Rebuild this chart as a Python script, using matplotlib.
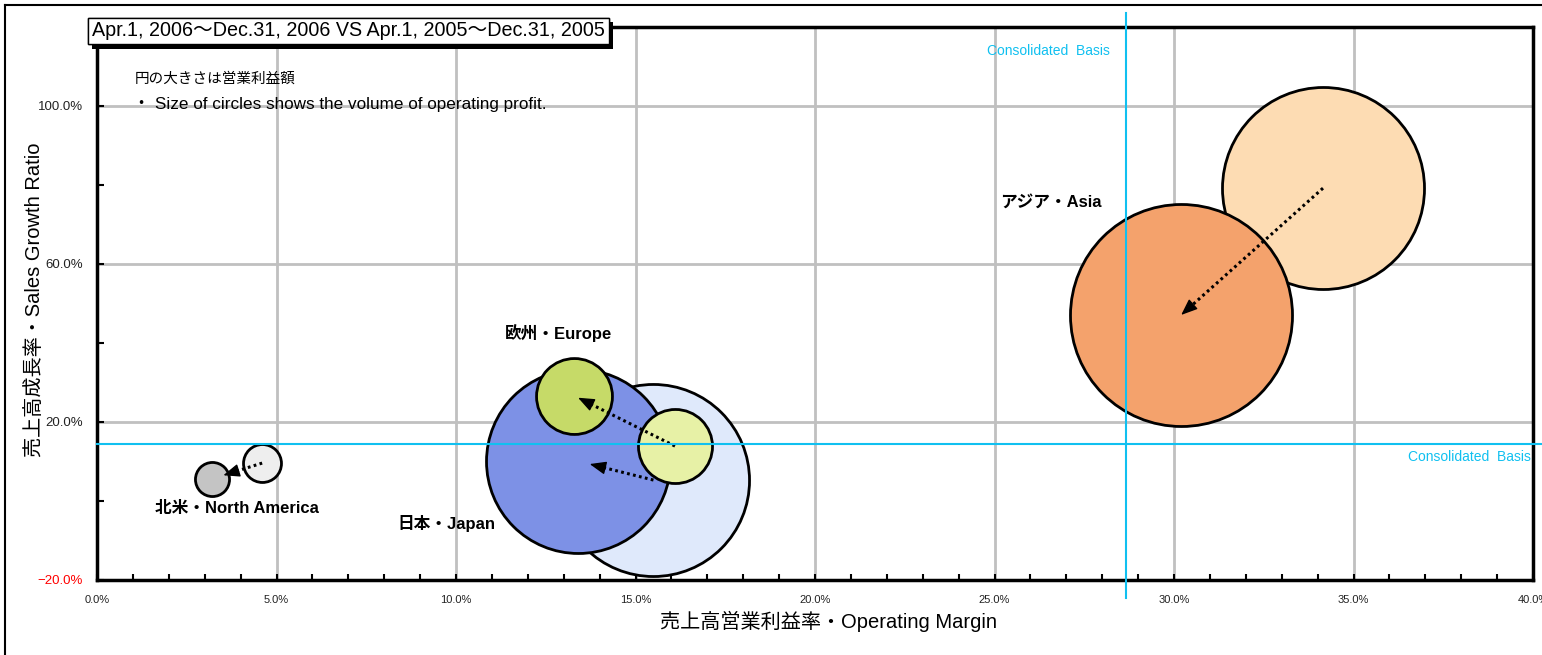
# -*- coding: utf-8 -*-

import matplotlib
matplotlib.use('Agg')
import matplotlib.pyplot as plt
import matplotlib.patheffects as pe
from matplotlib.ticker import MultipleLocator, FuncFormatter
from matplotlib.lines import Line2D
import numpy as np

plt.rcParams['font.family'] = ['Liberation Sans', 'Noto Sans CJK JP', 'DejaVu Sans']

# data (percent)
regions = ['Japan', 'North America', 'Europe', 'Asia']
margin_2005 = [15.5, 4.6, 16.1, 34.15]
growth_2005 = [5.3, 9.6, 13.9, 79.2]
margin_2006 = [13.4, 3.2, 13.3, 30.2]
growth_2006 = [10.1, 5.6, 26.6, 47.1]
# operating profit, relative units (circle area)
profit_2005 = [92.2, 3.6, 13.7, 102.0]
profit_2006 = [84.6, 2.9, 14.4, 123.2]

region_labels = ['日本・Japan', '北米・North America', '欧州・Europe', 'アジア・Asia']
basis_margin = 28.66
basis_growth = 14.4

colors_2005 = {'Japan': '#dfe9fb', 'North America': '#eeeeee',
               'Europe': '#e7f1a6', 'Asia': '#fddcb3'}
colors_2006 = {'Japan': '#7d91e6', 'North America': '#c4c4c4',
               'Europe': '#c6da68', 'Asia': '#f4a26c'}
arrow_gap = {'Japan': 12, 'North America': 12, 'Europe': 4, 'Asia': 0}

W, H = 1542, 655
fig = plt.figure(figsize=(W / 100, H / 100), dpi=100)
ax = fig.add_axes([97 / W, 1 - 580 / H, (1533 - 97) / W, (580 - 27) / H])

ax.set_xlim(0, 40)
ax.set_ylim(-20, 120)

ax.xaxis.set_major_locator(MultipleLocator(5))
ax.xaxis.set_minor_locator(MultipleLocator(1))
ax.set_yticks([-20, 20, 60, 100])
ax.yaxis.set_minor_locator(MultipleLocator(20))
ax.xaxis.set_major_formatter(FuncFormatter(lambda v, p: f'{v:.1f}%'))
ax.yaxis.set_major_formatter(FuncFormatter(
    lambda v, p: f'{v:.1f}%'.replace('-', '\u2212')))
ax.tick_params(axis='x', which='both', direction='in', length=4, width=1.5,
               labelsize=8, pad=11, colors='black', labelcolor='#222222')
ax.tick_params(axis='y', which='both', direction='in', length=5, width=1.5,
               labelsize=9.5, pad=10, labelcolor='#222222')
ax.get_yticklabels()[0].set_color('red')

ax.grid(True, which='major', color='#c0c0c0', linewidth=2)
ax.set_axisbelow(True)
for s in ax.spines.values():
    s.set_linewidth(2.5)
    s.set_color('black')

# circles, drawn back to front
order = [('Japan', 2005), ('Japan', 2006), ('Europe', 2006), ('Europe', 2005),
         ('North America', 2005), ('North America', 2006),
         ('Asia', 2005), ('Asia', 2006)]
k = 207.4
for z, (reg, yr) in enumerate(order):
    i = regions.index(reg)
    if yr == 2005:
        x, y, p, c = margin_2005[i], growth_2005[i], profit_2005[i], colors_2005[reg]
    else:
        x, y, p, c = margin_2006[i], growth_2006[i], profit_2006[i], colors_2006[reg]
    ax.scatter([x], [y], s=p * k, color=c, edgecolor='black', linewidth=2,
               zorder=3 + z)

# arrows 2005 -> 2006: dotted shaft + solid head
inv = ax.transData.inverted()
for i, reg in enumerate(regions):
    p0 = ax.transData.transform((margin_2005[i], growth_2005[i]))
    p1 = ax.transData.transform((margin_2006[i], growth_2006[i]))
    d = (p1 - p0) / np.hypot(*(p1 - p0))
    tip = p1 - d * arrow_gap[reg]
    base = tip - d * 11
    t0, tb, tt = inv.transform(p0), inv.transform(base), inv.transform(tip)
    ax.plot([t0[0], tb[0]], [t0[1], tb[1]], color='black', lw=2.2,
            linestyle=(0, (0.9, 1.1)), zorder=20)
    ax.annotate('', xy=tt, xytext=tb,
                arrowprops=dict(arrowstyle='-|>,head_length=1.0,head_width=0.4',
                                lw=1, color='black', shrinkA=0, shrinkB=0),
                zorder=20)

# consolidated basis lines
ax.plot([basis_margin, basis_margin], [123.5, -24.5], color='#10c0f0', lw=1.5,
        zorder=21, clip_on=False)
ax.plot([0, 40.25], [basis_growth, basis_growth], color='#10c0f0', lw=1.5,
        zorder=21, clip_on=False)
ax.text(28.2, 113.9, 'Consolidated  Basis', color='#10c0f0', fontsize=10,
        ha='right', va='center', zorder=22)
ax.text(39.95, 11.2, 'Consolidated  Basis', color='#10c0f0', fontsize=10,
        ha='right', va='center', zorder=22)

# region labels
label_pos = [(8.38, -5.6), (1.62, -2.0), (11.37, 42.5), (25.15, 75.7)]
for txt, (lx, ly) in zip(region_labels, label_pos):
    ax.text(lx, ly, txt, fontsize=12, fontweight='bold', ha='left', va='center',
            zorder=25)

# notes
ax.text(1.06, 106.8, '円の大きさは営業利益額', fontsize=10.5, ha='left', va='center',
        zorder=25)
ax.text(1.0, 100.4, '・ Size of circles shows the volume of operating profit.',
        fontsize=12.3, ha='left', va='center', zorder=25)

# period box with shadow
t = fig.text(92 / W, 1 - 31 / H,
             'Apr.1, 2006～Dec.31, 2006 VS Apr.1, 2005～Dec.31, 2005',
             fontsize=14.2, ha='left', va='center',
             bbox=dict(boxstyle='square,pad=0.2', fc='white', ec='black', lw=1))
t.get_bbox_patch().set_path_effects([
    pe.withSimplePatchShadow(offset=(3, -3), shadow_rgbFace='black', alpha=1.0),
    pe.Normal()])

# axis titles
fig.text(828 / W, 1 - 621 / H, '売上高営業利益率・Operating Margin', fontsize=14.5,
         ha='center', va='center')
fig.text(35 / W, 1 - 300 / H, '売上高成長率・Sales Growth Ratio', fontsize=14.5,
         ha='center', va='center', rotation=90)

# outer frame
fig.add_artist(Line2D([5 / W, 1], [1 - 5 / H, 1 - 5 / H], color='black', lw=1.5))
fig.add_artist(Line2D([5 / W, 5 / W], [0, 1 - 5 / H], color='black', lw=1.5))

fig.savefig('out.png', dpi=100)
